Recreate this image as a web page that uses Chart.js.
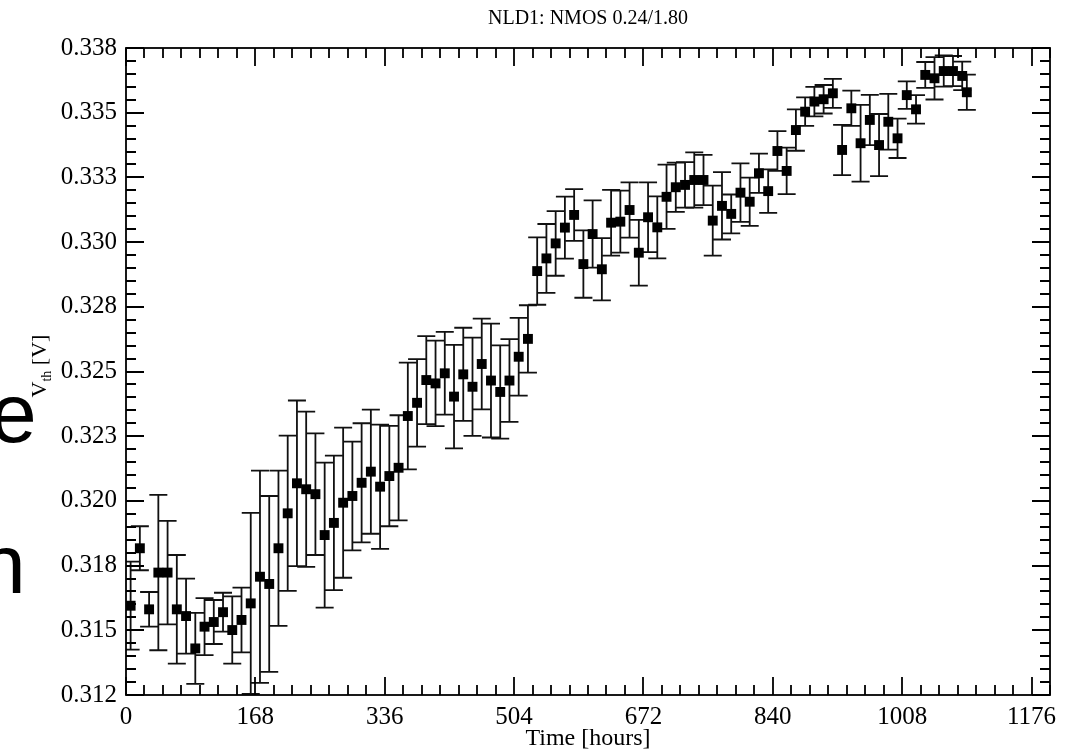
<!DOCTYPE html>
<html lang="en">
<head>
  <meta charset="UTF-8">
  <title>NLD1: NMOS 0.24/1.80</title>
  <script src="https://cdn.jsdelivr.net/npm/chart.js"></script>
  <style>
    body { margin: 0; background: #fff; }
    #wrap { position: relative; width: 1077px; height: 753px; }
  </style>
</head>
<body>
<div id="wrap"><canvas id="vthChart" width="1077" height="753"></canvas></div>

<script>
  // time in hours, threshold voltage and its error (V)
  const hours = [6, 18, 30, 42, 54, 66, 78, 90, 102, 114, 126, 138, 150, 162, 174, 186, 198, 210, 222, 234,
    246, 258, 270, 282, 294, 306, 318, 330, 342, 354, 366, 378, 390, 402, 414, 426, 438, 450, 462, 474,
    486, 498, 510, 522, 534, 546, 558, 570, 582, 594, 606, 618, 630, 642, 654, 666, 678, 690, 702, 714,
    726, 738, 750, 762, 774, 786, 798, 810, 822, 834, 846, 858, 870, 882, 894, 906, 918, 930, 942, 954,
    966, 978, 990, 1002, 1014, 1026, 1038, 1050, 1062, 1074, 1086, 1092];
  const vth = [0.31595, 0.31817, 0.31581, 0.31723, 0.31723, 0.31581, 0.31555, 0.3143, 0.31514, 0.31532,
    0.3157, 0.31501, 0.3154, 0.31604, 0.31707, 0.31679, 0.31817, 0.31952, 0.32068, 0.32045,
    0.32026, 0.31868, 0.31915, 0.31993, 0.32019, 0.3207, 0.32113, 0.32055, 0.32096, 0.32128,
    0.32328, 0.32379, 0.32467, 0.32454, 0.32493, 0.32403, 0.32489, 0.32441, 0.32529, 0.32465,
    0.32421, 0.32465, 0.32557, 0.32626, 0.32888, 0.32937, 0.32995, 0.33056, 0.33105, 0.32915,
    0.33031, 0.32895, 0.33075, 0.33079, 0.33124, 0.32959, 0.33096, 0.33057, 0.33175, 0.33212,
    0.33221, 0.3324, 0.3324, 0.33083, 0.3314, 0.33109, 0.33191, 0.33156, 0.33266, 0.33197,
    0.33352, 0.33275, 0.33433, 0.33504, 0.33543, 0.33552, 0.33575, 0.33356, 0.33517, 0.33382,
    0.33472, 0.33375, 0.33465, 0.33401, 0.33568, 0.33513, 0.33646, 0.33633, 0.33661, 0.33661,
    0.33642, 0.33579];
  const vthErr = [0.0017, 0.00085, 0.00067, 0.003, 0.002, 0.0021, 0.00145, 0.00137, 0.0011, 0.00085,
    0.00075, 0.0013, 0.00125, 0.0035, 0.0041, 0.0034, 0.003, 0.003, 0.0032, 0.003,
    0.00235, 0.0028, 0.0026, 0.0029, 0.0021, 0.0023, 0.0024, 0.0024, 0.00194, 0.00203,
    0.00206, 0.00169, 0.0017, 0.00165, 0.0016, 0.002, 0.0018, 0.0019, 0.00175, 0.0022,
    0.0018, 0.0016, 0.0015, 0.0013, 0.0013, 0.00133, 0.00125, 0.0012, 0.001, 0.0013,
    0.0013, 0.0012, 0.00127, 0.0012, 0.00107, 0.00127, 0.00135, 0.0012, 0.00124, 0.00095,
    0.00088, 0.00107, 0.00097, 0.00135, 0.0013, 0.00075, 0.00113, 0.00093, 0.00076, 0.00084,
    0.00077, 0.0009, 0.0008, 0.00055, 0.00057, 0.00055, 0.00056, 0.00097, 0.00068, 0.00148,
    0.00097, 0.0012, 0.00108, 0.00076, 0.00053, 0.00055, 0.0005, 0.00082, 0.0006, 0.00058,
    0.00055, 0.00068];

  const xTicks = [0, 168, 336, 504, 672, 840, 1008, 1176];
  const yTicks = [0.3125, 0.315, 0.3175, 0.32, 0.3225, 0.325, 0.3275, 0.33, 0.3325, 0.335, 0.3375];
  const yTickLabels = ['0.312', '0.315', '0.318', '0.320', '0.323', '0.325', '0.328', '0.330', '0.333', '0.335', '0.338'];

  const serif = "'Liberation Serif', 'Times New Roman', serif";

  // vertical error bars with caps, drawn under the markers
  const errorBars = {
    id: 'errorBars',
    beforeDatasetsDraw(chart) {
      const { ctx, chartArea: a, scales: { x, y } } = chart;
      ctx.save();
      ctx.beginPath();
      ctx.rect(a.left, a.top, a.right - a.left, a.bottom - a.top);
      ctx.clip();
      ctx.strokeStyle = '#111';
      ctx.lineWidth = 1.8;
      hours.forEach((h, i) => {
        const px = x.getPixelForValue(h);
        const top = y.getPixelForValue(vth[i] + vthErr[i]);
        const bot = y.getPixelForValue(vth[i] - vthErr[i]);
        ctx.beginPath();
        ctx.moveTo(px, top); ctx.lineTo(px, bot);
        ctx.moveTo(px - 9, top); ctx.lineTo(px + 9, top);
        ctx.moveTo(px - 9, bot); ctx.lineTo(px + 9, bot);
        ctx.stroke();
      });
      ctx.restore();
    }
  };

  // frame with inward major/minor ticks, titles and the cut slide letters
  const frame = {
    id: 'frame',
    afterDraw(chart) {
      const { ctx, chartArea: a, scales: { x, y } } = chart;
      ctx.save();
      ctx.strokeStyle = '#000';
      ctx.lineWidth = 1.8;
      ctx.strokeRect(a.left, a.top, a.right - a.left, a.bottom - a.top);
      ctx.beginPath();
      for (let t = x.min; t <= x.max + 1e-9; t += 24) {
        const px = Math.round(x.getPixelForValue(t));
        const len = xTicks.includes(t) ? 18 : 10;
        ctx.moveTo(px, a.bottom); ctx.lineTo(px, a.bottom - len);
        ctx.moveTo(px, a.top); ctx.lineTo(px, a.top + len);
      }
      for (let k = 0; k <= 50; k++) {
        const v = y.min + k * 0.0005;
        const py = Math.round(y.getPixelForValue(v));
        const len = k % 5 === 0 ? 18 : 10;
        ctx.moveTo(a.left, py); ctx.lineTo(a.left + len, py);
        ctx.moveTo(a.right, py); ctx.lineTo(a.right - len, py);
      }
      ctx.stroke();

      // plot title, centred over the plot area
      ctx.fillStyle = '#000';
      ctx.font = '20px ' + serif;
      ctx.textAlign = 'center';
      ctx.textBaseline = 'middle';
      ctx.fillText('NLD1: NMOS 0.24/1.80', (a.left + a.right) / 2, 19);

      // y axis title with subscript
      ctx.textAlign = 'left';
      ctx.textBaseline = 'alphabetic';
      ctx.translate(46, 366);
      ctx.rotate(-Math.PI / 2);
      ctx.font = '22px ' + serif;
      const w1 = ctx.measureText('V').width;
      ctx.font = '14px ' + serif;
      const w2 = ctx.measureText('th').width;
      ctx.font = '22px ' + serif;
      const w3 = ctx.measureText(' [V]').width;
      const sx = -(w1 + w2 + w3) / 2;
      ctx.fillText('V', sx, 0);
      ctx.font = '14px ' + serif;
      ctx.fillText('th', sx + w1, 5);
      ctx.font = '22px ' + serif;
      ctx.fillText(' [V]', sx + w1 + w2, 0);
      ctx.restore();

      // letters of the slide behind the plot, cut at the left edge
      ctx.save();
      ctx.fillStyle = '#000';
      ctx.font = "84px 'Liberation Sans', Arial, sans-serif";
      ctx.fillText('e', -10, 442);
      ctx.fillText('n', -21, 593);
      ctx.restore();
    }
  };

  new Chart(document.getElementById('vthChart'), {
    type: 'scatter',
    data: {
      datasets: [{
        data: hours.map((h, i) => ({ x: h, y: vth[i] })),
        pointStyle: 'rect',
        pointRadius: 7,
        backgroundColor: '#000',
        borderColor: '#000',
        borderWidth: 0,
        showLine: false
      }]
    },
    options: {
      responsive: false,
      animation: false,
      layout: { padding: { left: 0, right: 27, top: 48, bottom: 0 } },
      plugins: {
        legend: { display: false },
        tooltip: { enabled: false }
      },
      scales: {
        x: {
          type: 'linear',
          min: 0,
          max: 1200,
          grid: { display: false, drawTicks: false },
          border: { display: false },
          afterBuildTicks: s => { s.ticks = xTicks.map(v => ({ value: v })); },
          afterFit: s => { s.height = 58; },
          ticks: { color: '#000', font: { family: serif, size: 25 }, padding: 7, maxRotation: 0, autoSkip: false,
            callback: v => String(v) },
          title: { display: true, text: 'Time [hours]', color: '#000', font: { family: serif, size: 24 }, padding: 0 }
        },
        y: {
          type: 'linear',
          min: 0.3125,
          max: 0.3375,
          grid: { display: false, drawTicks: false },
          border: { display: false },
          afterBuildTicks: s => { s.ticks = yTicks.map(v => ({ value: v })); },
          afterFit: s => { s.width = 126; },
          ticks: { color: '#000', font: { family: serif, size: 25 }, padding: 9, autoSkip: false,
            callback: (v, i) => yTickLabels[i] }
        }
      }
    },
    plugins: [errorBars, frame]
  });
</script>
</body>
</html>
